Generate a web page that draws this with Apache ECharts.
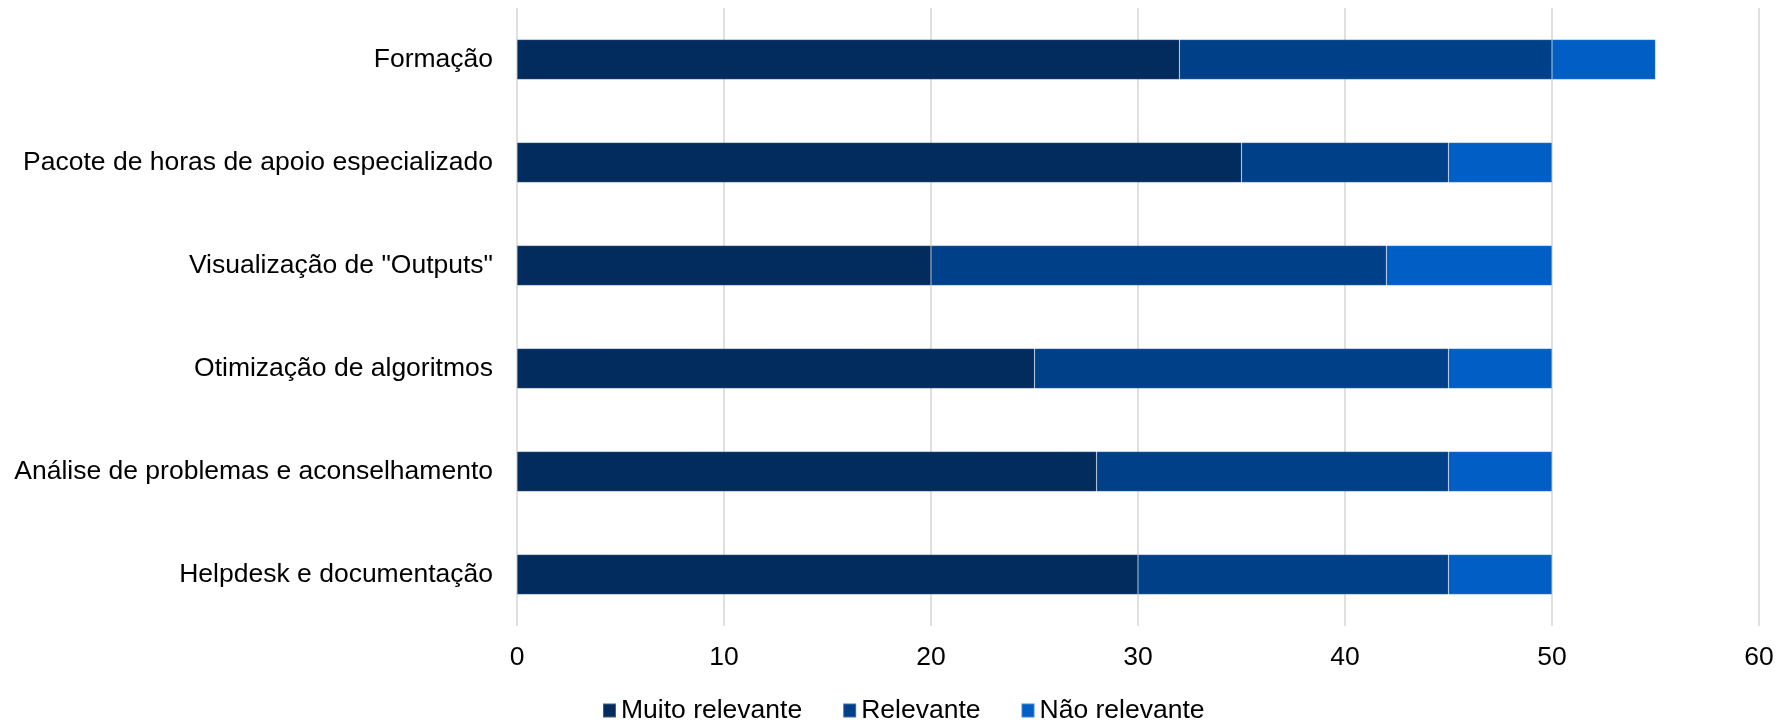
<!DOCTYPE html>
<html>
<head>
<meta charset="utf-8">
<script src="https://cdn.jsdelivr.net/npm/echarts@6/dist/echarts.min.js"></script>
<style>
  html, body { margin: 0; padding: 0; background: #fff; }
  #chart { width: 1777px; height: 724px; }
</style>
</head>
<body>
<div id="chart"></div>
<script>
// Service categories, listed top to bottom
const categories = [
  'Formação',
  'Pacote de horas de apoio especializado',
  'Visualização de "Outputs"',
  'Otimização de algoritmos',
  'Análise de problemas e aconselhamento',
  'Helpdesk e documentação'
];

// Number of answers per relevance level
const muitoRelevante = [32, 35, 20, 25, 28, 30];
const relevante      = [18, 10, 22, 20, 17, 15];
const naoRelevante   = [5, 5, 8, 5, 5, 5];

const seriesNames = ['Muito relevante', 'Relevante', 'Não relevante'];
const seriesColors = ['#022C5E', '#004089', '#005EC5'];

const FONT = '"Liberation Sans", Arial, sans-serif';

const chart = echarts.init(document.getElementById('chart'), null, { renderer: 'canvas' });

const makeSeries = (name, data, color) => ({
  name: name,
  type: 'bar',
  stack: 'total',
  barWidth: 40,
  data: data,
  itemStyle: { color: color, borderColor: 'rgba(255,255,255,0.25)', borderWidth: 0.6 },
  emphasis: { disabled: true }
});

chart.setOption({
  animation: false,
  textStyle: { fontFamily: FONT },
  grid: { left: 517, right: 18, top: 8, bottom: 98, containLabel: false },
  legend: {
    left: 602,
    top: 697,
    padding: 0,
    itemWidth: 13,
    itemHeight: 14,
    itemGap: 40,
    icon: 'rect',
    data: seriesNames,
    textStyle: { fontFamily: FONT, fontSize: 26.5, color: '#000' }
  },
  xAxis: {
    type: 'value',
    min: 0,
    max: 60,
    interval: 10,
    axisLine: { show: false },
    axisTick: { show: false },
    splitLine: { show: true, lineStyle: { color: '#D9D9D9', width: 1.6 } },
    axisLabel: { fontFamily: FONT, fontSize: 26.5, color: '#000', margin: 18 }
  },
  yAxis: {
    type: 'category',
    data: categories,
    inverse: true,
    axisLine: { show: false },
    axisTick: { show: false },
    splitLine: { show: false },
    axisLabel: { fontFamily: FONT, fontSize: 26.5, color: '#000', margin: 24 }
  },
  series: [
    makeSeries(seriesNames[0], muitoRelevante, seriesColors[0]),
    makeSeries(seriesNames[1], relevante, seriesColors[1]),
    makeSeries(seriesNames[2], naoRelevante, seriesColors[2])
  ]
});
</script>
</body>
</html>
